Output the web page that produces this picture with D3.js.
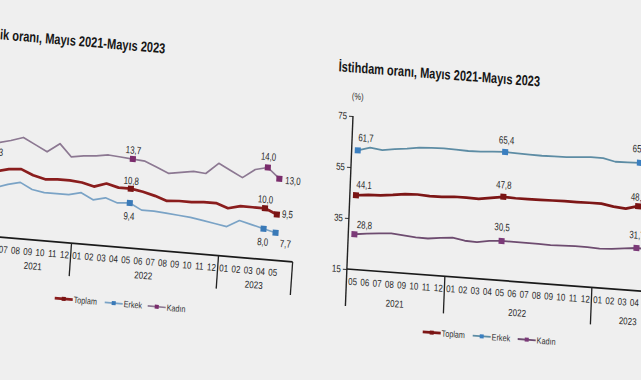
<!DOCTYPE html>
<html><head><meta charset="utf-8">
<script src="https://cdn.jsdelivr.net/npm/d3@7"></script>
<style>body{margin:0;background:#efefef}svg{display:block}</style>
</head><body>
<svg id="c" width="641" height="380"></svg>
<script>
// ---------- DATA ----------
const monthLabels = ["05","06","07","08","09","10","11","12","01","02","03","04","05","06","07","08","09","10","11","12","01","02","03","04","05"];
const yearLabels = ["2021","2022","2023"];
const yearStart = [0, 8, 20];
const seriesNames = ["Toplam","Erkek","Kadın"];

// İşsizlik oranı (%), Mayıs 2021 - Mayıs 2023
const unempTotal = [11.1,11.4,11.7,11.8,11.3,11.0,11.1,11.1,11.0,10.7,11.1,10.8,10.8,10.6,10.3,9.9,10.0,10.0,10.1,10.1,9.7,10.0,10.0,10.0,9.5];
const unempMen   = [9.6,9.8,10.2,10.5,9.9,9.7,9.7,9.7,10.0,9.4,9.7,9.3,9.4,8.8,8.8,8.7,8.6,8.5,8.3,8.1,7.9,8.6,8.3,8.0,7.7];
const unempWomen = [12.3,14.2,14.5,14.9,14.3,13.7,14.6,13.4,13.6,13.7,13.9,13.8,13.7,13.6,13.1,12.6,12.8,13.0,12.9,14.0,13.4,12.8,13.7,14.0,13.0];
const unempTicks = [5,10,15,20];

// İstihdam oranı (%), Mayıs 2021 - Mayıs 2023
const empTotal = [44.1,44.6,44.8,45.3,46.0,46.2,45.9,46.0,46.4,46.4,46.3,47.0,47.8,47.6,47.6,47.7,47.8,47.9,47.9,48.0,48.0,47.2,46.8,48.1,48.3];
const empMen   = [61.7,63.1,62.5,63.3,63.8,64.6,64.8,65.0,64.9,64.7,64.8,65.2,65.4,65.2,65.1,65.0,65.1,65.2,65.5,65.9,65.9,64.8,64.9,65.1,65.3];
const empWomen = [28.8,29.4,29.9,30.2,29.8,29.4,29.3,29.9,30.4,29.5,29.3,30.2,30.5,30.5,30.5,30.4,30.3,30.5,30.6,30.6,30.4,30.6,31.2,31.7,31.5];
const empTicks = [15,35,55,75];

// ---------- DRAW ----------
const svg = d3.select("#c");
svg.append("rect").attr("width",641).attr("height",380).attr("fill","#efefef");
const FONT = "'Liberation Sans',Arial,sans-serif";
const SX = 0.8; // narrow text
const fmt = v => d3.format(".1f")(v).replace(".", ",");

// place a narrow text at (x,y)
function ntext(sel, fx, fy, size, sx){
  return sel.attr("transform",(d,i)=>`translate(${fx(d,i)},${fy(d,i)}) scale(${sx||SX},1)`)
    .attr("font-family",FONT).attr("font-size",size).attr("dy","0.35em");
}

function drawChart(cfg){
  const {ax, ay, b, a} = cfg;
  const g = svg.append("g")
    .attr("transform", `translate(${ax},${ay}) matrix(1,${b},${a},1,0,0) translate(${-ax},${-ay})`);
  const x = d3.scaleLinear().domain([0,24]).range(cfg.xRange);
  const y = d3.scaleLinear().domain(cfg.yDomain).range([cfg.axisY, cfg.axisY-153]);
  const step = x(1)-x(0);
  const yAxisX = x(0) - step/2;

  // title
  const t = g.append("text").attr("x",cfg.titleEnd[0]).attr("y",cfg.titleEnd[1])
    .attr("text-anchor","end").attr("font-family",FONT).attr("font-weight","bold")
    .attr("font-size",14.5).attr("fill","#161616").text(cfg.title);
  const full = t.node().getComputedTextLength();
  const tmp = g.append("text").attr("font-family",FONT).attr("font-weight","bold").attr("font-size",14.5).text(cfg.titleSuffix);
  const sw = tmp.node().getComputedTextLength(); tmp.remove();
  t.attr("textLength", full*cfg.suffixWidth/sw).attr("lengthAdjust","spacingAndGlyphs");

  ntext(g.append("text").datum("(%)"), ()=>yAxisX+4, ()=>cfg.axisY-173, 9.5)
    .attr("text-anchor","middle").attr("fill","#333").text(d=>d);

  // y axis
  const ya = g.append("g").attr("transform",`translate(${yAxisX},0)`)
    .call(d3.axisLeft(y).tickValues(cfg.yTicks).tickSize(4).tickPadding(2));
  ya.select(".domain").remove();
  ya.selectAll("text").attr("x",-6/SX).attr("transform",`scale(${SX},1)`)
    .attr("font-family",FONT).attr("font-size",10).attr("fill","#222");
  ya.selectAll("line").attr("stroke","#333");
  g.append("line").attr("x1",yAxisX).attr("x2",yAxisX).attr("y1",y(cfg.yDomain[1])).attr("y2",cfg.axisY+cfg.sepLen)
    .attr("stroke","#222").attr("stroke-width",1.4);

  // x axis + category boxes
  g.append("line").attr("x1",yAxisX).attr("x2",cfg.xEnd).attr("y1",cfg.axisY).attr("y2",cfg.axisY)
    .attr("stroke","#1a1a1a").attr("stroke-width",1.7);
  const bounds = [yAxisX, ...yearStart.slice(1).map(s=>x(s-0.5)), cfg.xEnd];
  g.selectAll(".sep").data(bounds.slice(1)).join("line")
    .attr("x1",d=>d).attr("x2",d=>d).attr("y1",cfg.axisY).attr("y2",cfg.axisY+cfg.sepLen)
    .attr("stroke","#222").attr("stroke-width",1.3);
  ntext(g.selectAll(".mon").data(monthLabels).join("text"), (d,i)=>x(i), ()=>cfg.axisY+12, 10)
    .attr("text-anchor","middle").attr("fill","#2a2a2a").text(d=>d);
  ntext(g.selectAll(".yr").data(yearLabels).join("text"),
      (d,i)=>(bounds[i]+bounds[i+1])/2 + cfg.yearDx[i], ()=>cfg.axisY+cfg.yearDy, 10)
    .attr("text-anchor","middle").attr("fill","#2a2a2a").text(d=>d);

  // series
  const line = d3.line().x((d,i)=>x(i)).y(d=>y(d));
  const drawOrder = [2,1,0];
  drawOrder.forEach(k=>{
    const s = cfg.series[k];
    g.append("path").datum(s.values).attr("d",line).attr("fill","none")
      .attr("stroke",s.line).attr("stroke-width",s.width).attr("stroke-linejoin","round");
  });
  cfg.series.forEach(s=>{
    const idx = Object.keys(s.labels).map(Number);
    g.selectAll(null).data(idx).join("rect")
      .attr("x",i=>x(i)-3).attr("y",i=>y(s.values[i])-3).attr("width",6).attr("height",6)
      .attr("fill",s.marker);
    ntext(g.selectAll(null).data(idx).join("text"),
        i=>x(i)+s.labels[i][0], i=>y(s.values[i])+s.labels[i][1], 10.5, 0.75)
      .attr("text-anchor",i=>s.labels[i][2]).attr("fill","#2a2a2a")
      .text(i=>fmt(s.values[i]));
  });

  // legend
  const ly = cfg.axisY + cfg.legendDy;
  cfg.series.forEach((s,k)=>{
    const lx = cfg.legendX[k];
    g.append("line").attr("x1",lx).attr("x2",lx+18).attr("y1",ly).attr("y2",ly)
      .attr("stroke",s.line).attr("stroke-width",s.width);
    g.append("rect").attr("x",lx+7).attr("y",ly-2).attr("width",4).attr("height",4).attr("fill",s.marker);
    ntext(g.append("text").datum(seriesNames[k]), ()=>lx+19, ()=>ly, 9)
      .attr("fill","#333").text(d=>d);
  });
}

// series order in cfg: Toplam, Erkek, Kadın
drawChart({
  ax:132, ay:200, b:0.085, a:-0.07,
  xRange:[-17,277], xEnd:296, axisY:248, yDomain:[5,20], yTicks:unempTicks,
  sepLen:33, yearDy:26, yearDx:[12,0,0], legendDy:56, legendX:[62,112,155],
  title:"İşsizlik oranı, Mayıs 2021-Mayıs 2023", titleSuffix:"oranı, Mayıs 2021-Mayıs 2023",
  suffixWidth:153, titleEnd:[154.5,51.5],
  series:[
    {values:unempTotal, line:"#8a1d1d", marker:"#7a1414", width:2.7,
     labels:{12:[0,-8,"middle"],23:[0,-9,"middle"],24:[5,-1,"start"]}},
    {values:unempMen, line:"#7aa3c6", marker:"#3a7ab8", width:1.7,
     labels:{12:[0,13,"middle"],23:[0,13,"middle"],24:[5,10,"start"]}},
    {values:unempWomen, line:"#8c7892", marker:"#7a2c6c", width:1.7,
     labels:{0:[10,-10,"middle"],12:[0,-9,"middle"],23:[0,-11,"middle"],24:[6,1,"start"]}}
  ]
});

drawChart({
  ax:347, ay:269, b:0.075, a:-0.04,
  xRange:[353,647], xEnd:666, axisY:269, yDomain:[15,75], yTicks:empTicks,
  sepLen:37, yearDy:31, yearDx:[0,0,0], legendDy:57, legendX:[425,475,520],
  title:"İstihdam oranı, Mayıs 2021-Mayıs 2023", titleSuffix:"oranı, Mayıs 2021-Mayıs 2023",
  suffixWidth:153, titleEnd:[532,72.6],
  series:[
    {values:empTotal, line:"#7d1616", marker:"#7a1414", width:2.7,
     labels:{0:[0,-11,"start"],12:[0,-12,"middle"],23:[0,-9,"middle"],24:[0,-9,"middle"]}},
    {values:empMen, line:"#5d8ca4", marker:"#3b7fc0", width:1.8,
     labels:{0:[0,-13,"start"],12:[1,-12,"middle"],23:[0,-14,"middle"],24:[0,-14,"middle"]}},
    {values:empWomen, line:"#6e4c70", marker:"#7b3a78", width:1.8,
     labels:{0:[2,-10,"start"],12:[0,-14,"middle"],23:[0,-13,"middle"],24:[0,-13,"middle"]}}
  ]
});
</script>
</body></html>
